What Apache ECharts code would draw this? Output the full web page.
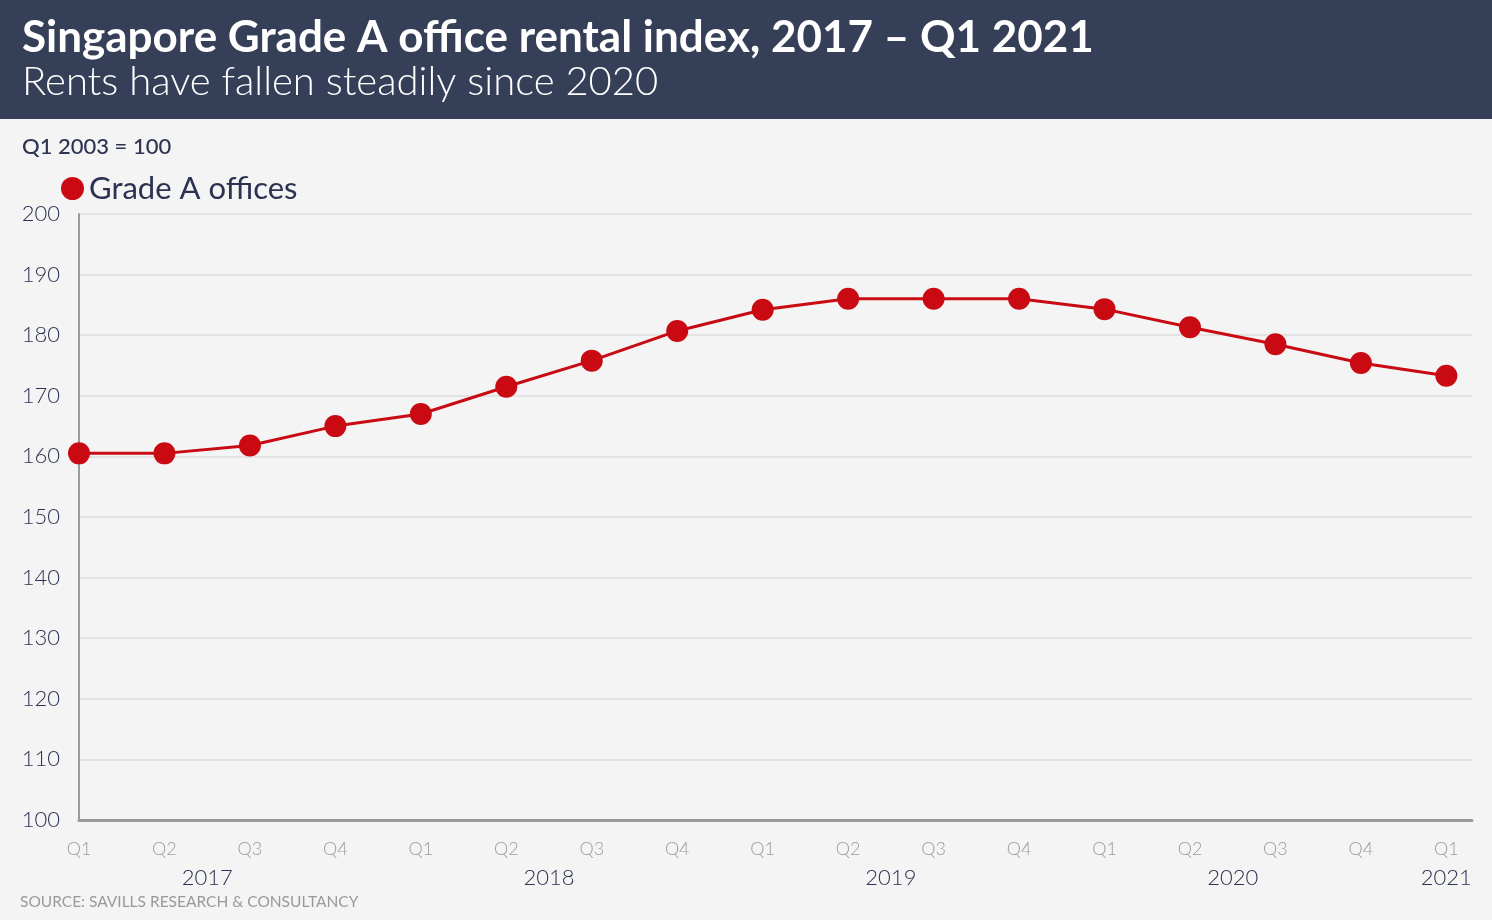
<!DOCTYPE html>
<html>
<head>
<meta charset="utf-8">
<script src="https://cdn.jsdelivr.net/npm/echarts@6/dist/echarts.min.js"></script>
<style>
html,body{margin:0;padding:0;background:#f4f4f4;}
#chart{width:1492px;height:920px;}
</style>
</head>
<body>
<div id="chart"></div>
<script>
const quarters = ['Q1','Q2','Q3','Q4','Q1','Q2','Q3','Q4','Q1','Q2','Q3','Q4','Q1','Q2','Q3','Q4','Q1'];
const yearLabels = [{pos:1.5,text:'2017'},{pos:5.5,text:'2018'},{pos:9.5,text:'2019'},{pos:13.5,text:'2020'},{pos:16,text:'2021'}];
const gradeA = [160.5,160.5,161.8,165.0,167.0,171.5,175.8,180.7,184.2,186.0,186.0,186.0,184.3,181.3,178.5,175.4,173.3];
const yTicks = {min:100,max:200,interval:10};

const chart = echarts.init(document.getElementById('chart'));
const navy = '#2c3350';
const red = '#c90a12';
const option = {
  backgroundColor:'#f4f4f4',
  animation:false,
  graphic:[
    {type:'rect',left:0,top:0,shape:{width:1492,height:119},style:{fill:'#363f58'},z:-1},
    {type:'text',left:22,top:16,style:{text:'Singapore Grade A office rental index, 2017 \u2013 Q1 2021',fill:'#ffffff',font:'bold 44px Lato, "Open Sans", sans-serif'}},
    {type:'text',left:22,top:62,style:{text:'Rents have fallen steadily since 2020',fill:'#ffffff',font:'300 40px Lato, "Open Sans", sans-serif'}},
    {type:'text',left:22,top:136,style:{text:'Q1 2003 = 100',fill:navy,font:'500 22px Lato, sans-serif'}},
    {type:'text',left:20,top:894,style:{text:'SOURCE: SAVILLS RESEARCH & CONSULTANCY',fill:'#999999',font:'15.5px Lato, "Open Sans", sans-serif'}}
  ],
  legend:{
    left:56,top:168,icon:'circle',itemWidth:23,itemHeight:23,itemGap:10,
    textStyle:{color:navy,fontSize:31,fontFamily:'Lato, sans-serif',padding:[0,0,0,0]},
    data:['Grade A offices']
  },
  grid:{left:79,right:20,top:214,bottom:100},
  xAxis:[
    {type:'value',min:0,max:16.3,interval:1,position:'bottom',
     axisLine:{show:true,lineStyle:{color:'#9a9a9a',width:3}},
     axisTick:{show:false},splitLine:{show:false},
     axisLabel:{margin:20,color:'#9c9c9c',fontSize:18,fontFamily:'Lato, sans-serif',fontWeight:300,showMaxLabel:true,
       formatter:v=>Number.isInteger(v)&&quarters[v]!==undefined?quarters[v]:''}},
    {type:'value',min:0,max:16.3,interval:0.5,position:'bottom',
     axisLine:{show:false},axisTick:{show:false},splitLine:{show:false},
     axisLabel:{margin:47,color:navy,fontSize:22,fontFamily:'Lato, sans-serif',fontWeight:300,
       formatter:v=>{const f=yearLabels.find(y=>Math.abs(y.pos-v)<1e-6);return f?f.text:'';}}}
  ],
  yAxis:{type:'value',min:yTicks.min,max:yTicks.max,interval:yTicks.interval,
    axisLine:{show:true,lineStyle:{color:'#9a9a9a',width:2}},
    axisTick:{show:false},
    splitLine:{show:true,lineStyle:{color:'#e3e3e3',width:2}},
    axisLabel:{margin:19,color:navy,fontSize:22,fontFamily:'Lato, sans-serif',fontWeight:300}},
  series:[{
    name:'Grade A offices',type:'line',xAxisIndex:0,
    data:gradeA.map((v,i)=>[i,v]),
    symbol:'circle',symbolSize:22,
    lineStyle:{color:red,width:3},
    itemStyle:{color:red},
    z:5
  }]
};
chart.setOption(option);
</script>
</body>
</html>
